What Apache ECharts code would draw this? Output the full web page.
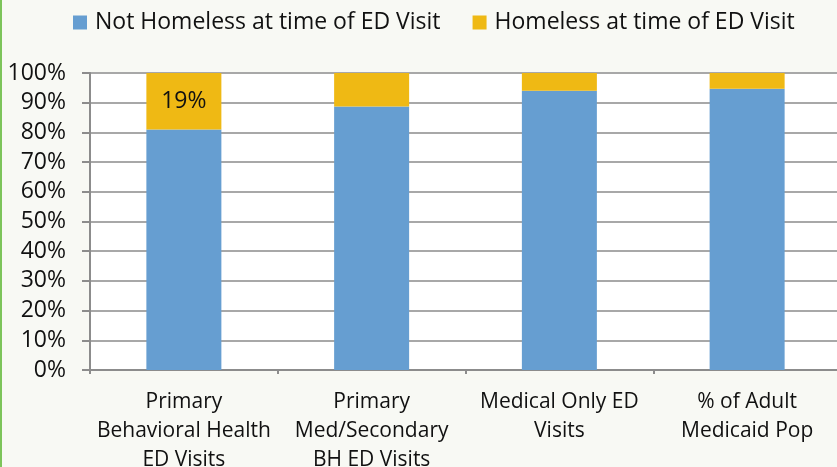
<!DOCTYPE html>
<html>
<head>
<meta charset="utf-8">
<script src="https://cdn.jsdelivr.net/npm/echarts@6/dist/echarts.min.js"></script>
<style>
  html, body { margin: 0; padding: 0; background: #f8f9f4; }
  /* green frame edge on the left like the source slide */
  #chart { width: 837px; height: 467px; border-left: 2px solid #7dc45a; box-sizing: border-box; }
</style>
</head>
<body>
<div id="chart"></div>
<script>
// categories and values
const categories = [
  'Primary\nBehavioral Health\nED Visits',
  'Primary\nMed/Secondary\nBH ED Visits',
  'Medical Only ED\nVisits',
  '% of Adult\nMedicaid Pop'
]
const notHomeless = [81, 88.7, 94, 94.7]
const homeless = [19, 11.3, 6, 5.3]
const labelledBars = [0] // only the first yellow segment carries a label

const fontFamily = "'Open Sans', 'Noto Sans', sans-serif"
const chart = echarts.init(document.getElementById('chart'))

chart.setOption({
  backgroundColor: '#f8f9f4',
  textStyle: { fontFamily: fontFamily },
  legend: {
    left: 66,
    top: 6,
    icon: 'rect',
    itemWidth: 14,
    itemHeight: 14,
    itemGap: 32,
    textStyle: { color: '#111', fontSize: 23, fontFamily: fontFamily, padding: [0, 0, 0, 3] },
    data: ['Not Homeless at time of ED Visit', 'Homeless at time of ED Visit']
  },
  grid: {
    left: 88,
    right: -4,
    top: 73,
    bottom: 97,
    outerBoundsMode: 'none',
    show: true,
    backgroundColor: '#ffffff',
    borderWidth: 0
  },
  xAxis: {
    type: 'category',
    data: categories,
    axisLine: { lineStyle: { color: '#8c8c8c', width: 2 } },
    axisTick: { show: true, length: 4, lineStyle: { color: '#8c8c8c', width: 2 } },
    axisLabel: {
      color: '#111',
      fontSize: 21,
      lineHeight: 29,
      margin: 18,
      interval: 0
    }
  },
  yAxis: {
    type: 'value',
    min: 0,
    max: 100,
    interval: 10,
    axisLine: { show: true, lineStyle: { color: '#8c8c8c', width: 2 } },
    axisTick: { show: true, length: 8, lineStyle: { color: '#8c8c8c', width: 2 } },
    splitLine: { lineStyle: { color: '#a8a8a8', width: 2 } },
    axisLabel: {
      formatter: '{value}%',
      color: '#111',
      fontSize: 23,
      margin: 24
    }
  },
  series: [
    {
      name: 'Not Homeless at time of ED Visit',
      type: 'bar',
      stack: 'total',
      barWidth: 75,
      itemStyle: { color: '#669ed1' },
      data: notHomeless
    },
    {
      name: 'Homeless at time of ED Visit',
      type: 'bar',
      stack: 'total',
      barWidth: 75,
      itemStyle: { color: '#efb914' },
      data: homeless.map((v, i) => ({
        value: v,
        label: {
          show: labelledBars.includes(i),
          position: 'inside',
          formatter: '{c}%',
          color: '#111',
          fontSize: 23
        }
      }))
    }
  ]
})
</script>
</body>
</html>
